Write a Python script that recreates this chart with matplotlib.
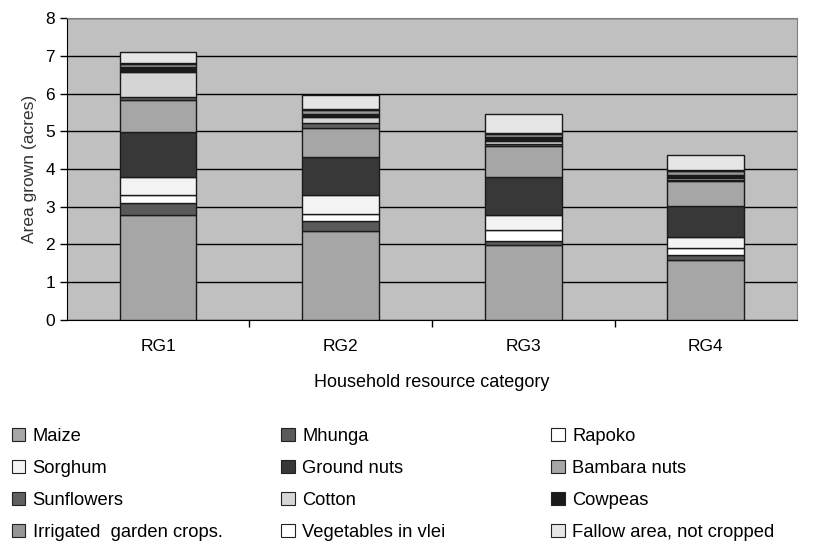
import numpy as np
import matplotlib.pyplot as plt
from matplotlib.patches import Patch

plt.rcParams['font.family'] = ['Liberation Sans', 'DejaVu Sans']

groups = ['RG1', 'RG2', 'RG3', 'RG4']
crops = ['Maize', 'Mhunga', 'Rapoko', 'Sorghum', 'Ground nuts', 'Bambara nuts',
         'Sunflowers', 'Cotton', 'Cowpeas', 'Irrigated  garden crops.',
         'Vegetables in vlei', 'Fallow area, not cropped']

maize = [2.79, 2.37, 1.99, 1.60]
mhunga = [0.30, 0.24, 0.09, 0.12]
rapoko = [0.23, 0.20, 0.31, 0.18]
sorghum = [0.47, 0.51, 0.40, 0.29]
ground_nuts = [1.19, 1.00, 1.01, 0.84]
bambara = [0.84, 0.77, 0.80, 0.64]
sunflowers = [0.08, 0.13, 0.05, 0.03]
cotton = [0.66, 0.16, 0.09, 0.06]
cowpeas = [0.13, 0.09, 0.11, 0.09]
irrigated = [0.09, 0.09, 0.09, 0.09]
vegetables = [0.02, 0.02, 0.02, 0.02]
fallow = [0.29, 0.38, 0.50, 0.40]

series = [maize, mhunga, rapoko, sorghum, ground_nuts, bambara,
          sunflowers, cotton, cowpeas, irrigated, vegetables, fallow]
colors = ['#a6a6a6', '#5a5a5a', '#ffffff', '#f3f3f3', '#383838', '#a6a6a6',
          '#606060', '#d6d6d6', '#1a1a1a', '#969696', '#ffffff', '#e6e6e6']

fig = plt.figure(figsize=(8.15, 5.46), dpi=100)
ax = fig.add_axes([0.082, 0.414, 0.896, 0.553])
ax.set_facecolor('#c0c0c0')

x = np.arange(len(groups))
bottom = np.zeros(len(groups))
for vals, c in zip(series, colors):
    ax.bar(x, vals, 0.42, bottom=bottom, color=c, edgecolor='#1a1a1a',
           linewidth=1.0, zorder=3)
    bottom += np.array(vals)

ax.set_xlim(-0.5, 3.5)
ax.set_ylim(0, 8)
ax.set_yticks(range(0, 9))
ax.yaxis.grid(True, color='black', linewidth=1.0, zorder=1)
ax.set_axisbelow(True)
ax.set_xticks(x)
ax.set_xticklabels(groups, fontsize=12.5)
ax.set_xticks([0.5, 1.5, 2.5], minor=True)
ax.tick_params(axis='x', which='major', length=0, pad=14)
ax.tick_params(axis='x', which='minor', length=5, width=1, direction='out')
ax.tick_params(axis='y', length=5, width=1, labelsize=12.5, direction='out')
for s in ['top', 'right']:
    ax.spines[s].set_color('#808080')
for s in ['left', 'bottom']:
    ax.spines[s].set_color('black')
ax.set_ylabel('Area grown (acres)', fontsize=12.5, color='#333333', labelpad=6)
ax.set_xlabel('Household resource category', fontsize=13, labelpad=14)

handles = [Patch(facecolor=c, edgecolor='#222222', linewidth=0.8) for c in colors]
# legend reads row by row, one legend per column
col_x = [-0.006, 0.325, 0.656]
for k in range(3):
    idx = [k, k + 3, k + 6, k + 9]
    fig.legend([handles[i] for i in idx], [crops[i] for i in idx],
               loc='upper left', bbox_to_anchor=(col_x[k], 0.247),
               frameon=False, fontsize=13.2, handlelength=0.75,
               handleheight=0.75, handletextpad=0.4, labelspacing=0.81)

fig.savefig('out.png', dpi=100)
